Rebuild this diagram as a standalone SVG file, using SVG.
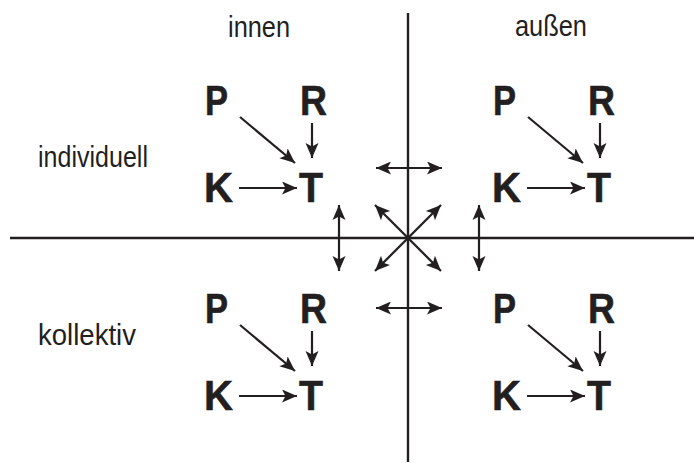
<svg xmlns="http://www.w3.org/2000/svg" width="694" height="463" viewBox="0 0 694 463">
<style>
.lbl{font-family:"Liberation Sans",Arial,sans-serif;font-size:30px;fill:#231f20}
.big{font-family:"Liberation Sans",Arial,sans-serif;font-size:43px;font-weight:bold;fill:#231f20;stroke:#231f20;stroke-width:0.6}
.ax{stroke:#231f20;stroke-width:2.4;fill:none}
.ar{stroke:#231f20;stroke-width:2.2;fill:none;marker-end:url(#ah)}
.dar{stroke:#231f20;stroke-width:2.2;fill:none;marker-end:url(#ah);marker-start:url(#ahs)}
</style>
<defs>
<marker id="ah" markerUnits="userSpaceOnUse" markerWidth="16" markerHeight="14" refX="15" refY="6.5" orient="auto">
<path d="M0,0 L15,6.5 L0,13 L3.5,6.5 Z" fill="#231f20"/>
</marker>
<marker id="ahs" markerUnits="userSpaceOnUse" markerWidth="16" markerHeight="14" refX="0" refY="6.5" orient="auto">
<path d="M15,0 L0,6.5 L15,13 L11.5,6.5 Z" fill="#231f20"/>
</marker>
</defs>
<rect width="694" height="463" fill="#ffffff"/>
<g id="labels">
<text id="innen" class="lbl" x="228" y="37" textLength="62" lengthAdjust="spacingAndGlyphs">innen</text>
<text id="aussen" class="lbl" x="515" y="36" textLength="72" lengthAdjust="spacingAndGlyphs">außen</text>
<text id="individuell" class="lbl" x="38" y="167" textLength="110" lengthAdjust="spacingAndGlyphs">individuell</text>
<text id="kollektiv" class="lbl" x="38" y="345" textLength="98" lengthAdjust="spacingAndGlyphs">kollektiv</text>
</g>
<g id="axes">
<line class="ax" x1="408" y1="13" x2="408" y2="462"/>
<line class="ax" x1="10" y1="238" x2="694" y2="238"/>
</g>
<g id="q-individuell-innen" transform="translate(0,0)">
<g id="q1-P"><text class="big" x="205" y="115" textLength="23" lengthAdjust="spacingAndGlyphs">P</text></g>
<g id="q1-R"><text class="big" x="300" y="115" textLength="27" lengthAdjust="spacingAndGlyphs">R</text></g>
<g id="q1-K"><text class="big" x="204" y="202" textLength="29" lengthAdjust="spacingAndGlyphs">K</text></g>
<g id="q1-T"><text class="big" x="299" y="202" textLength="24" lengthAdjust="spacingAndGlyphs">T</text></g>
</g>
<g id="q-individuell-aussen" transform="translate(288,0)">
<g id="q2-P"><text class="big" x="205" y="115" textLength="23" lengthAdjust="spacingAndGlyphs">P</text></g>
<g id="q2-R"><text class="big" x="300" y="115" textLength="27" lengthAdjust="spacingAndGlyphs">R</text></g>
<g id="q2-K"><text class="big" x="204" y="202" textLength="29" lengthAdjust="spacingAndGlyphs">K</text></g>
<g id="q2-T"><text class="big" x="299" y="202" textLength="24" lengthAdjust="spacingAndGlyphs">T</text></g>
</g>
<g id="q-kollektiv-innen" transform="translate(0,208)">
<g id="q3-P"><text class="big" x="205" y="115" textLength="23" lengthAdjust="spacingAndGlyphs">P</text></g>
<g id="q3-R"><text class="big" x="300" y="115" textLength="27" lengthAdjust="spacingAndGlyphs">R</text></g>
<g id="q3-K"><text class="big" x="204" y="202" textLength="29" lengthAdjust="spacingAndGlyphs">K</text></g>
<g id="q3-T"><text class="big" x="299" y="202" textLength="24" lengthAdjust="spacingAndGlyphs">T</text></g>
</g>
<g id="q-kollektiv-aussen" transform="translate(288,208)">
<g id="q4-P"><text class="big" x="205" y="115" textLength="23" lengthAdjust="spacingAndGlyphs">P</text></g>
<g id="q4-R"><text class="big" x="300" y="115" textLength="27" lengthAdjust="spacingAndGlyphs">R</text></g>
<g id="q4-K"><text class="big" x="204" y="202" textLength="29" lengthAdjust="spacingAndGlyphs">K</text></g>
<g id="q4-T"><text class="big" x="299" y="202" textLength="24" lengthAdjust="spacingAndGlyphs">T</text></g>
</g>
<g id="connectors">
<g transform="translate(0,0)">
<line class="ar" x1="240" y1="117" x2="295" y2="163"/>
<line class="ar" x1="312" y1="123" x2="312" y2="158"/>
<line class="ar" x1="239" y1="188" x2="297" y2="188"/>
</g>
<g transform="translate(288,0)">
<line class="ar" x1="240" y1="117" x2="295" y2="163"/>
<line class="ar" x1="312" y1="123" x2="312" y2="158"/>
<line class="ar" x1="239" y1="188" x2="297" y2="188"/>
</g>
<g transform="translate(0,208)">
<line class="ar" x1="240" y1="117" x2="295" y2="163"/>
<line class="ar" x1="312" y1="123" x2="312" y2="158"/>
<line class="ar" x1="239" y1="188" x2="297" y2="188"/>
</g>
<g transform="translate(288,208)">
<line class="ar" x1="240" y1="117" x2="295" y2="163"/>
<line class="ar" x1="312" y1="123" x2="312" y2="158"/>
<line class="ar" x1="239" y1="188" x2="297" y2="188"/>
</g>
<line class="dar" x1="376" y1="168" x2="442" y2="168"/>
<line class="dar" x1="376" y1="308" x2="442" y2="308"/>
<line class="dar" x1="339" y1="205" x2="339" y2="271"/>
<line class="dar" x1="479" y1="205" x2="479" y2="271"/>
<line class="dar" x1="375" y1="205" x2="441" y2="271"/>
<line class="dar" x1="441" y1="205" x2="375" y2="271"/>
</g>
</svg>
